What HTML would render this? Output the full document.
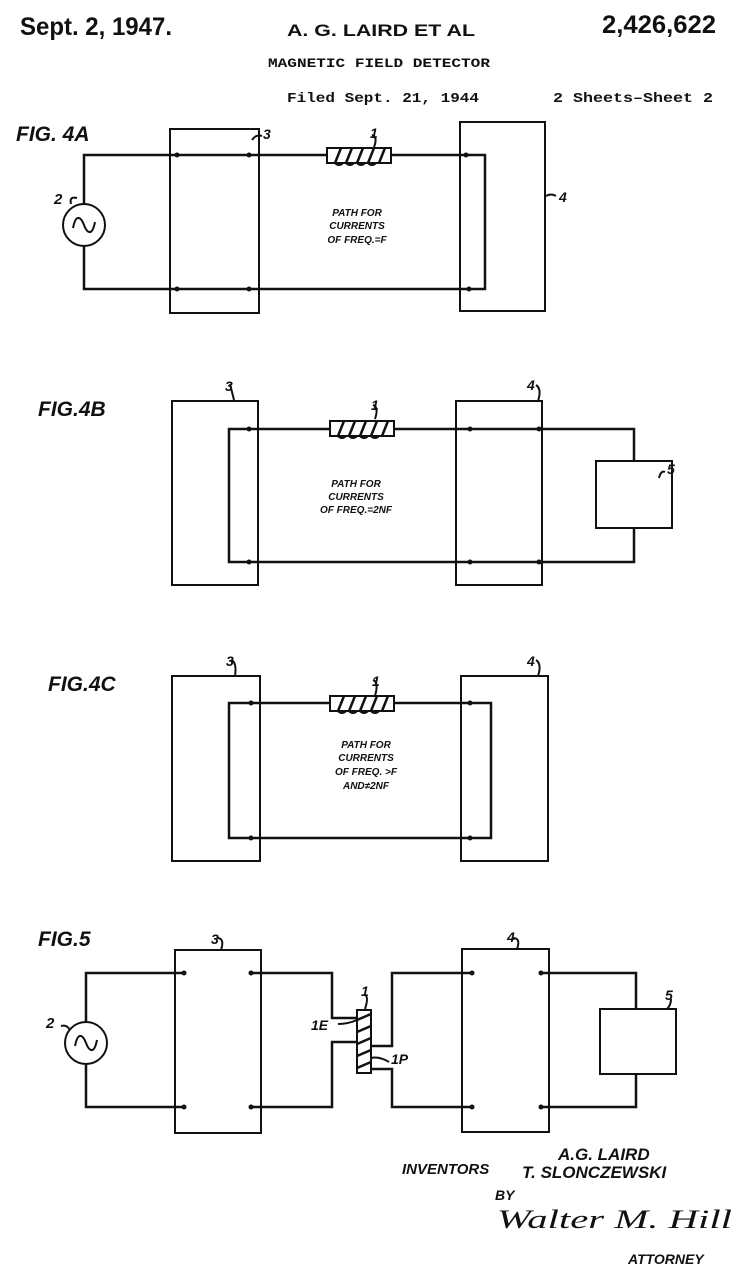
<!DOCTYPE html>
<html><head><meta charset="utf-8"><style>
html,body{margin:0;padding:0;background:#fff;}
svg{display:block;}
.h{font-family:"Liberation Sans Narrow","Liberation Sans",sans-serif;font-weight:bold;fill:#111;}
.m{font-family:"Liberation Mono",monospace;font-weight:bold;fill:#111;}
.l{font-family:"Liberation Sans",sans-serif;font-weight:bold;font-style:italic;fill:#111;}
</style></head><body>
<svg width="746" height="1280" viewBox="0 0 746 1280" xmlns="http://www.w3.org/2000/svg">
<defs>
<g id="coilH">
<rect x="0" y="0" width="64" height="15" fill="#fff" stroke="#111" stroke-width="2"/>
<path d="M8 15 L14 0 M19 15 L25 0 M30 15 L36 0 M41 15 L47 0 M52 15 L58 0" stroke="#111" stroke-width="2.5" fill="none"/>
<path d="M8 15 q4 4 8 0 M19 15 q4 4 8 0 M30 15 q4 4 8 0 M41 15 q4 4 8 0" stroke="#111" stroke-width="2" fill="none"/>
</g>
<g id="src"><circle cx="0" cy="0" r="21" fill="#fff" stroke="#111" stroke-width="2"/>
<path d="M-11 3 C-8 -12 -3 -8 0 0 C3 8 8 12 11 -3" stroke="#111" stroke-width="2" fill="none"/></g>
</defs>
<text x="20" y="35" class="h" font-size="25" textLength="152" lengthAdjust="spacingAndGlyphs">Sept. 2, 1947.</text>
<text x="287" y="36" font-family="Liberation Sans,sans-serif" font-weight="bold" font-size="17" fill="#111" textLength="188" lengthAdjust="spacingAndGlyphs">A. G. LAIRD ET AL</text>
<text x="602" y="33" class="h" font-size="25" textLength="114" lengthAdjust="spacingAndGlyphs">2,426,622</text>
<text x="268" y="67" class="m" font-size="13" textLength="222" lengthAdjust="spacingAndGlyphs">MAGNETIC FIELD DETECTOR</text>
<text x="287" y="102" class="m" font-size="14" textLength="192" lengthAdjust="spacingAndGlyphs">Filed Sept. 21, 1944</text>
<text x="553" y="102" class="m" font-size="14" textLength="160" lengthAdjust="spacingAndGlyphs">2 Sheets–Sheet 2</text>

<g stroke="#111" stroke-width="2" fill="none">
<rect x="170" y="129" width="89" height="184"/>
<rect x="460" y="122" width="85" height="189"/>
<path d="M84 204 V155 H485 V289 H84 V246" stroke-width="2.5"/>
<rect x="172" y="401" width="86" height="184"/>
<rect x="456" y="401" width="86" height="184"/>
<path d="M634 461 V429 H229 V562 H634 V528" stroke-width="2.5"/>
<rect x="596" y="461" width="76" height="67"/>
<rect x="172" y="676" width="88" height="185"/>
<rect x="461" y="676" width="87" height="185"/>
<path d="M229 703 H491 V838 H229 Z" stroke-width="2.5"/>
<rect x="175" y="950" width="86" height="183"/>
<rect x="462" y="949" width="87" height="183"/>
<rect x="600" y="1009" width="76" height="65"/>
<path d="M86 1022 V973 H184 M86 1064 V1107 H184" stroke-width="2.5"/>
<path d="M251 973 H332 V1018 H357 M357 1042 H332 V1107 H251" stroke-width="2.5"/>
<path d="M472 973 H392 V1046 H371 M371 1069 H392 V1107 H472" stroke-width="2.5"/>
<path d="M541 973 H636 V1009 M636 1074 V1107 H541" stroke-width="2.5"/>
<rect x="357" y="1010" width="14" height="63" fill="#fff"/>
<path d="M357 1020 L371 1014 M357 1032 L371 1026 M357 1044 L371 1038 M357 1056 L371 1050 M357 1068 L371 1062" stroke-width="2.5"/>
<path d="M252 140 q4 -6 10 -4"/><path d="M556 196 q-5 -3 -10 0"/>
<path d="M77 198 q-8 -2 -6 6"/><path d="M372 135 q6 2 2 12"/>
<path d="M230 384 q2 8 4 16"/><path d="M536 385 q6 4 2 16"/><path d="M373 405 q6 2 2 14"/><path d="M665 472 q-4 -2 -6 6"/>
<path d="M231 660 q6 2 4 16"/><path d="M536 660 q6 4 2 16"/><path d="M373 680 q6 2 2 16"/>
<path d="M217 938 q8 0 4 12"/><path d="M513 938 q8 0 4 11"/><path d="M61 1026 q8 -2 10 8"/>
<path d="M365 995 q4 2 0 14"/><path d="M338 1024 q10 0 19 -4"/><path d="M371 1058 q8 -2 18 4"/><path d="M671 999 q0 6 -4 10"/>
</g>
<g fill="#111">
<circle cx="177" cy="155" r="2.5"/><circle cx="249" cy="155" r="2.5"/><circle cx="466" cy="155" r="2.5"/>
<circle cx="177" cy="289" r="2.5"/><circle cx="249" cy="289" r="2.5"/><circle cx="469" cy="289" r="2.5"/>
<circle cx="249" cy="429" r="2.5"/><circle cx="470" cy="429" r="2.5"/><circle cx="539" cy="429" r="2.5"/>
<circle cx="249" cy="562" r="2.5"/><circle cx="470" cy="562" r="2.5"/><circle cx="539" cy="562" r="2.5"/>
<circle cx="251" cy="703" r="2.5"/><circle cx="470" cy="703" r="2.5"/><circle cx="251" cy="838" r="2.5"/><circle cx="470" cy="838" r="2.5"/>
<circle cx="184" cy="973" r="2.5"/><circle cx="251" cy="973" r="2.5"/><circle cx="184" cy="1107" r="2.5"/><circle cx="251" cy="1107" r="2.5"/>
<circle cx="472" cy="973" r="2.5"/><circle cx="541" cy="973" r="2.5"/><circle cx="472" cy="1107" r="2.5"/><circle cx="541" cy="1107" r="2.5"/>
</g>
<use href="#coilH" x="327" y="148"/>
<use href="#coilH" x="330" y="421"/>
<use href="#coilH" x="330" y="696"/>
<use href="#src" x="84" y="225"/>
<use href="#src" x="86" y="1043"/>

<g class="l">
<text x="16" y="141" font-size="21">FIG. 4A</text>
<text x="38" y="416" font-size="21">FIG.4B</text>
<text x="48" y="691" font-size="21">FIG.4C</text>
<text x="38" y="946" font-size="21">FIG.5</text>
<text x="263" y="139" font-size="14">3</text><text x="559" y="202" font-size="14">4</text>
<text x="54" y="204" font-size="15">2</text><text x="370" y="138" font-size="14">1</text>
<text x="225" y="391" font-size="14">3</text><text x="527" y="390" font-size="14">4</text><text x="371" y="410" font-size="14">1</text><text x="667" y="474" font-size="14">5</text>
<text x="226" y="666" font-size="14">3</text><text x="527" y="666" font-size="14">4</text><text x="372" y="686" font-size="14">1</text>
<text x="211" y="944" font-size="14">3</text><text x="507" y="942" font-size="14">4</text><text x="46" y="1028" font-size="15">2</text>
<text x="361" y="996" font-size="14">1</text><text x="665" y="1000" font-size="14">5</text>
<text x="311" y="1030" font-size="14">1E</text><text x="391" y="1064" font-size="14">1P</text>
<g font-size="10" text-anchor="middle">
<text x="357" y="216">PATH FOR</text><text x="357" y="229">CURRENTS</text><text x="357" y="243">OF FREQ.=F</text>
<text x="356" y="487">PATH FOR</text><text x="356" y="500">CURRENTS</text><text x="356" y="513">OF FREQ.=2NF</text>
<text x="366" y="748">PATH FOR</text><text x="366" y="761">CURRENTS</text><text x="366" y="775">OF FREQ. &gt;F</text><text x="366" y="789">AND≠2NF</text>
</g>
<text x="402" y="1174" font-size="15">INVENTORS</text>
<text x="558" y="1160" font-size="17">A.G. LAIRD</text>
<text x="522" y="1178" font-size="17">T. SLONCZEWSKI</text>
<text x="495" y="1200" font-size="14">BY</text>
<text x="497" y="1228" font-size="26" font-family="Liberation Serif,serif" font-style="italic" font-weight="normal" textLength="235" lengthAdjust="spacingAndGlyphs">Walter M. Hill</text>
<text x="628" y="1264" font-size="14">ATTORNEY</text>
</g>
</svg>
</body></html>
